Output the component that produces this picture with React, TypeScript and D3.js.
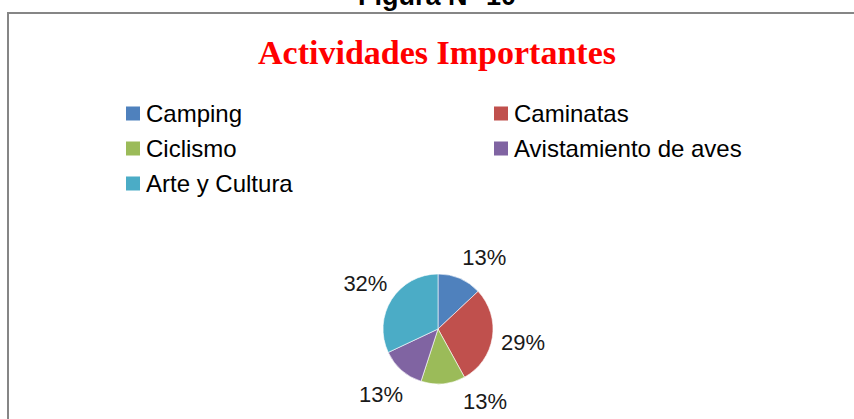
import React, { useEffect, useRef } from "react";
import * as d3 from "d3";

const categories = ["Camping", "Caminatas", "Ciclismo", "Avistamiento de aves", "Arte y Cultura"];
const values = [13, 29, 13, 13, 32];
const colors = ["#4F81BD", "#C0504D", "#9BBB59", "#8064A2", "#4BACC6"];

const App: React.FC = () => {
  const svgRef = useRef<SVGSVGElement>(null);

  useEffect(() => {
    if (!svgRef.current) return;
    const svg = d3.select(svgRef.current);
    svg.selectAll("*").remove();

    const width = 854;
    const height = 419;

    // Caption above the chart box (cut off at the top, as in the scan)
    svg
      .append("text")
      .attr("x", 437)
      .attr("y", 5)
      .attr("text-anchor", "middle")
      .attr("font-family", "'Liberation Sans', Arial, sans-serif")
      .attr("font-weight", "bold")
      .attr("font-size", 27)
      .attr("fill", "#000")
      .text("Figura N° 10");

    // Chart frame
    svg
      .append("rect")
      .attr("x", 8)
      .attr("y", 13)
      .attr("width", width + 20)
      .attr("height", height + 20)
      .attr("fill", "#fff")
      .attr("stroke", "#868686")
      .attr("stroke-width", 2);

    // Title
    svg
      .append("text")
      .attr("x", 437)
      .attr("y", 64)
      .attr("text-anchor", "middle")
      .attr("font-family", "'Liberation Serif', 'Times New Roman', serif")
      .attr("font-weight", "bold")
      .attr("font-size", 34)
      .attr("fill", "#FF0000")
      .text("Actividades Importantes");

    // Legend: two columns
    const colX = [126, 494];
    const rowY = d3.scaleLinear().domain([0, 1]).range([113.5, 148.5]);
    const legend = svg
      .selectAll(".legend")
      .data(categories)
      .enter()
      .append("g")
      .attr("class", "legend")
      .attr("transform", (_, i) => `translate(${colX[i % 2]}, ${rowY(Math.floor(i / 2))})`);
    legend
      .append("rect")
      .attr("x", 0)
      .attr("y", -7)
      .attr("width", 14)
      .attr("height", 14)
      .attr("fill", (_, i) => colors[i]);
    legend
      .append("text")
      .attr("x", 20)
      .attr("y", 8)
      .attr("font-family", "'Liberation Sans', Arial, sans-serif")
      .attr("font-size", 24)
      .attr("fill", "#000")
      .text((d) => d);

    // Pie
    const cx = 438;
    const cy = 329;
    const r = 55;
    const pie = d3.pie<number>().sort(null).value((d) => d)(values);
    const arc = d3.arc<d3.PieArcDatum<number>>().innerRadius(0).outerRadius(r);
    const g = svg.append("g").attr("transform", `translate(${cx}, ${cy})`);

    g.selectAll("path")
      .data(pie)
      .enter()
      .append("path")
      .attr("d", arc)
      .attr("fill", (_, i) => colors[i])
      .attr("stroke", "#fff")
      .attr("stroke-width", 0.6);

    // Outside-end labels, kept inside the plot area
    const total = d3.sum(values);
    const labelR = 86;
    const minY = 256.5 - cy;
    const maxY = 401 - cy;
    g.selectAll(".lbl")
      .data(pie)
      .enter()
      .append("text")
      .attr("class", "lbl")
      .each(function (d) {
        const a = (d.startAngle + d.endAngle) / 2;
        let x = labelR * Math.sin(a);
        let y = -labelR * Math.cos(a);
        if (y < minY || y > maxY) {
          y = Math.max(minY, Math.min(maxY, y));
          x = Math.sign(x || 1) * Math.sqrt(labelR * labelR - y * y);
        }
        d3.select(this)
          .attr("x", x)
          .attr("y", y + 8)
          .attr("text-anchor", "middle");
      })
      .attr("font-family", "'Liberation Sans', Arial, sans-serif")
      .attr("font-size", 22)
      .attr("fill", "#1a1a1a")
      .text((d) => `${Math.round((d.value / total) * 100)}%`);
  }, []);

  return (
    <svg
      ref={svgRef}
      width={854}
      height={419}
      style={{ position: "absolute", left: 0, top: 0, background: "#fff" }}
    ></svg>
  );
};

export default App;
